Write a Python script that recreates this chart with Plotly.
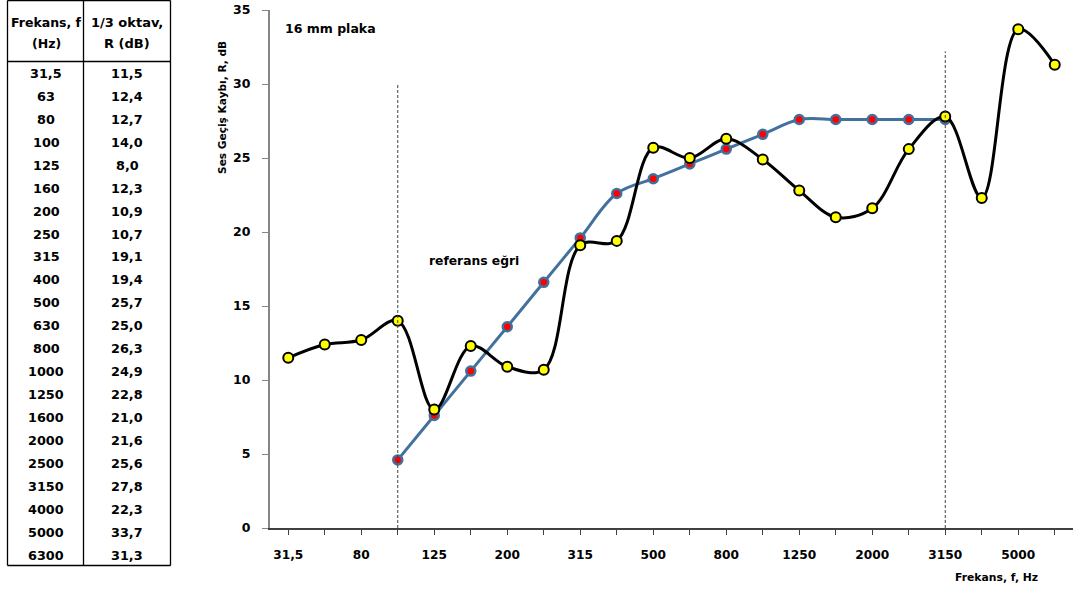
import plotly.graph_objects as go

# 1/3-octave band centre frequencies and measured sound reduction index R (dB)
freq_labels = ["31,5", "63", "80", "100", "125", "160", "200", "250", "315", "400",
               "500", "630", "800", "1000", "1250", "1600", "2000", "2500", "3150",
               "4000", "5000", "6300"]
r_values = [11.5, 12.4, 12.7, 14.0, 8.0, 12.3, 10.9, 10.7, 19.1, 19.4,
            25.7, 25.0, 26.3, 24.9, 22.8, 21.0, 21.6, 25.6, 27.8,
            22.3, 33.7, 31.3]

# shifted reference curve, 100 Hz .. 3150 Hz
ref_freqs = ["100", "125", "160", "200", "250", "315", "400", "500", "630",
             "800", "1000", "1250", "1600", "2000", "2500", "3150"]
ref_values = [4.6, 7.6, 10.6, 13.6, 16.6, 19.6, 22.6, 23.6, 24.6,
              25.6, 26.6, 27.6, 27.6, 27.6, 27.6, 27.6]

# dashed guide lines bounding the evaluation range
guide_freqs = ["100", "3150"]
guide_tops = [30.0, 32.2]

W, H = 1073, 589
L, R, T, B = 270, 0, 10, 61
PW, PH = W - L - R, H - T - B

FONT = "DejaVu Sans"
BLACK = "#000000"


def px(x):
    return (x - L) / PW


def py(y):
    return (H - B - y) / PH


idx = {f: i for i, f in enumerate(freq_labels)}
x_all = list(range(len(freq_labels)))
x_ref = [idx[f] for f in ref_freqs]

fig = go.Figure()

fig.add_trace(go.Scatter(
    x=x_ref, y=ref_values, mode="lines+markers",
    line=dict(color="#41719C", width=3, shape="spline", smoothing=1.0),
    marker=dict(size=9, color="#FF0000", line=dict(color="#41719C", width=2.5)),
    hoverinfo="skip", showlegend=False,
))

fig.add_trace(go.Scatter(
    x=x_all, y=r_values, mode="lines+markers",
    line=dict(color=BLACK, width=3, shape="spline", smoothing=1.0),
    marker=dict(size=10, color="#FFFF00", line=dict(color=BLACK, width=2)),
    hoverinfo="skip", showlegend=False,
))

shapes = []
for f, top in zip(guide_freqs, guide_tops):
    shapes.append(dict(
        type="line", xref="x", yref="y", x0=idx[f], x1=idx[f], y0=0, y1=top,
        line=dict(color="#404040", width=1, dash="3px,2px"), layer="above",
    ))

# frequency / R table on the left
tbl_left, tbl_mid, tbl_right = 7.5, 83.5, 170.5
tbl_top, tbl_head, tbl_bottom = 0.5, 61.5, 565.5
for x0, y0, x1, y1 in [
    (tbl_left, tbl_top, tbl_right, tbl_top),
    (tbl_left, tbl_bottom, tbl_right, tbl_bottom),
    (tbl_left, tbl_head, tbl_right, tbl_head),
    (tbl_left, tbl_top, tbl_left, tbl_bottom),
    (tbl_mid, tbl_top, tbl_mid, tbl_bottom),
    (tbl_right, tbl_top, tbl_right, tbl_bottom),
]:
    shapes.append(dict(
        type="line", xref="paper", yref="paper",
        x0=px(x0), x1=px(x1), y0=py(y0), y1=py(y1),
        line=dict(color=BLACK, width=1.3),
    ))

annotations = []


def text(x, y, s, size=13, **kw):
    annotations.append(dict(
        x=px(x), y=py(y), xref="paper", yref="paper", text=s, showarrow=False,
        font=dict(family=FONT, size=size, color=BLACK, weight="bold"),
        xanchor=kw.pop("xanchor", "center"), yanchor=kw.pop("yanchor", "middle"), **kw,
    ))


col1, col2 = 46, 127
text(col1, 22.5, "Frekans, f", size=12.5)
text(col1, 43.5, "(Hz)", size=12.5)
text(col2, 22.5, "1/3 oktav,", size=13)
text(col2, 43.5, "R (dB)", size=13)

row0, row_step = 73.5, 22.93
for i, (f, v) in enumerate(zip(freq_labels, r_values)):
    y = row0 + i * row_step
    text(col1, y, f, size=12.8)
    text(col2, y, f"{v:.1f}".replace(".", ","), size=12.8)

# chart labels
text(283, 28, "16 mm plaka", size=12.5, xanchor="left")
text(427, 261, "referans eğri", size=12.3, xanchor="left")
text(1040, 577, "Frekans, f, Hz", size=10.8, xanchor="right")
text(222, 108, "Ses Geçiş Kaybı, R, dB", size=10.6, textangle=-90)

tick_text = [f if i % 2 == 0 else "" for i, f in enumerate(freq_labels)]

fig.update_layout(
    width=W, height=H,
    margin=dict(l=L, r=R, t=T, b=B, pad=0),
    paper_bgcolor="white", plot_bgcolor="white",
    xaxis=dict(
        range=[-0.5, len(freq_labels) - 0.5],
        tickmode="array", tickvals=x_all, ticktext=tick_text,
        ticks="outside", ticklen=5, tickcolor="#404040", tickwidth=1.3,
        showline=True, linecolor="#404040", linewidth=1.8,
        showgrid=False, zeroline=False, ticklabelstandoff=9,
        tickfont=dict(family=FONT, size=12.2, color=BLACK, weight="bold"),
    ),
    yaxis=dict(
        range=[0, 35], tickmode="array", tickvals=[0, 5, 10, 15, 20, 25, 30, 35],
        ticks="outside", ticklen=6, tickcolor="#868686", tickwidth=1.3,
        showline=True, linecolor="#868686", linewidth=2,
        showgrid=False, zeroline=False, ticklabelstandoff=9,
        tickfont=dict(family=FONT, size=12.5, color=BLACK, weight="bold"),
    ),
    shapes=shapes, annotations=annotations,
)

fig.write_html("out.html")
